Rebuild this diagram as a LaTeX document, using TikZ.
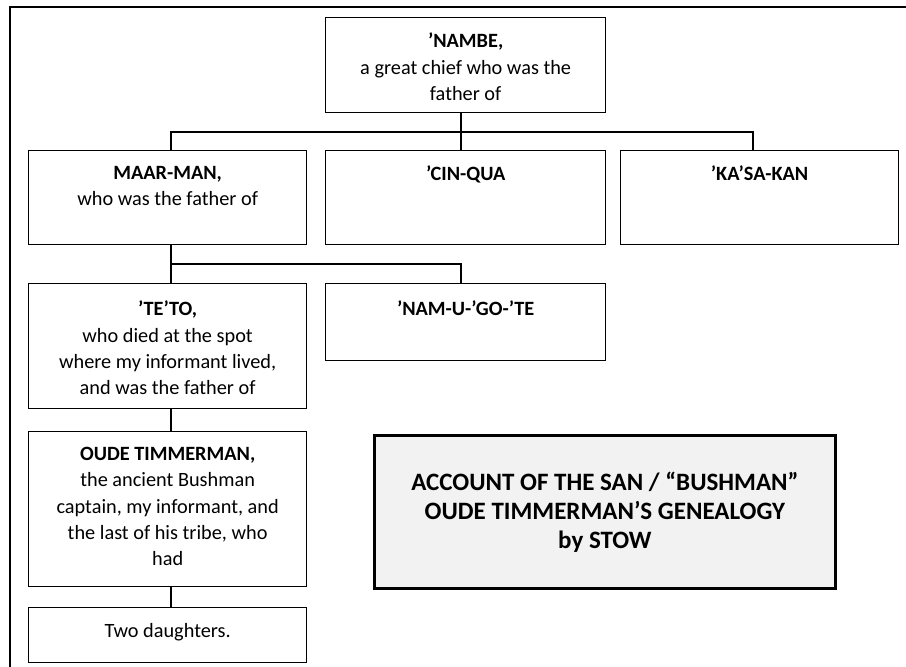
\documentclass[tikz,border=0pt]{standalone}
\usepackage{fontspec}
\setmainfont{Carlito}
\definecolor{titlefill}{HTML}{F2F2F2}
\tikzset{
  box/.style={draw=black, line width=1.3pt, fill=white, inner sep=0pt, anchor=north west},
  txt/.style={anchor=north, align=center, inner sep=0pt, font=\fontsize{20.3}{26.3}\selectfont},
  link/.style={line width=2.4pt, draw=black},
  titlebox/.style={draw=black, line width=2.8pt, fill=titlefill, inner sep=0pt, anchor=north west},
  titletxt/.style={align=center, inner sep=0pt, font=\fontsize{25}{29}\selectfont\bfseries},
}
\begin{document}
\begin{tikzpicture}[x=1pt,y=-1pt]
\useasboundingbox (0,0) rectangle (906,667);
% outer frame (only top and left visible)
\draw[line width=2.2pt] (10,700) -- (10,7) -- (930,7);

% boxes
\node[box, minimum width=280pt, minimum height=95pt] (nambe) at (325,17) {};
\node[box, minimum width=278pt, minimum height=94pt] (maar) at (28,150) {};
\node[box, minimum width=280pt, minimum height=94pt] (cin) at (325,150) {};
\node[box, minimum width=278pt, minimum height=94pt] (ka) at (620,150) {};
\node[box, minimum width=278pt, minimum height=125pt] (teto) at (28,283) {};
\node[box, minimum width=280pt, minimum height=77pt] (namu) at (325,283) {};
\node[box, minimum width=278pt, minimum height=155pt] (oude) at (28,431) {};
\node[box, minimum width=278pt, minimum height=55pt] (two) at (28,607) {};
\node[titlebox, minimum width=461pt, minimum height=153pt] (title) at (373,434) {};

% texts
\node[txt] (tnambe) at ([yshift=-16pt]nambe.north) {\textbf{’NAMBE,}\\a great chief who was the\\father of};
\node[txt] (tmaar) at ([yshift=-16pt]maar.north) {\textbf{MAAR-MAN,}\\who was the father of};
\node[txt] (tcin) at ([yshift=-16pt]cin.north) {\textbf{’CIN-QUA}};
\node[txt] (tka) at ([yshift=-16pt]ka.north) {\textbf{’KA’SA-KAN}};
\node[txt] (tteto) at ([yshift=-18pt]teto.north) {\textbf{’TE’TO,}\\who died at the spot\\where my informant lived,\\and was the father of};
\node[txt] (tnamu) at ([yshift=-18pt]namu.north) {\textbf{’NAM-U-’GO-’TE}};
\node[txt] (toude) at ([yshift=-16pt]oude.north) {\textbf{OUDE TIMMERMAN,}\\the ancient Bushman\\captain, my informant, and\\the last of his tribe, who\\had};
\node[txt] (ttwo) at ([yshift=-16pt]two.north) {Two daughters.};
\node[titletxt] (ttitle) at (title.center) {ACCOUNT OF THE SAN / “BUSHMAN”\\OUDE TIMMERMAN’S GENEALOGY\\by STOW};

% junction coordinates
\coordinate (c1) at (171,132);
\coordinate (j1) at (461,132);
\coordinate (c3) at (753,132);
\coordinate (c4) at (171,264);
\coordinate (c5) at (461,264);

% connectors
\draw[link] (maar.north -| c1) -- (c1) -- (c3) -- (ka.north -| c3);
\draw[link] (nambe.south -| j1) -- (cin.north -| j1);
\draw[link] (maar.south -| c4) -- (c4) -- (c5) -- (namu.north -| c5);
\draw[link] (c4) -- (teto.north -| c4);
\draw[link] (teto.south -| c4) -- (oude.north -| c4);
\draw[link] (oude.south -| c4) -- (two.north -| c4);
\end{tikzpicture}
\end{document}
